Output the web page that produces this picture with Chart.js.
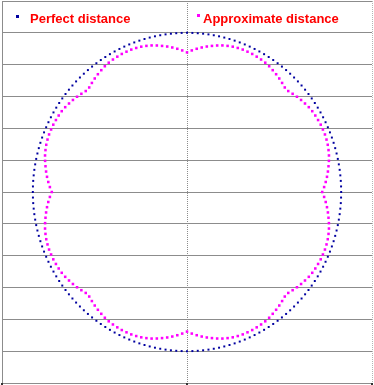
<!DOCTYPE html>
<html>
<head>
<meta charset="utf-8">
<script src="https://cdn.jsdelivr.net/npm/chart.js@4"></script>
<style>
    html, body { margin: 0; padding: 0; background: #fff; }
    .wrap { position: relative; width: 374px; height: 385px; }
    .legend-item { position: absolute; font: bold 13px "Liberation Sans", Arial, sans-serif; line-height: 15px; color: #ff0000; white-space: nowrap; }
    .legend-mark { position: absolute; width: 3px; height: 3px; }
</style>
</head>
<body>
<div class="wrap">
    <canvas id="distChart" width="374" height="385"></canvas>
    <div class="legend-mark" style="left:16px; top:15px; background:#0000a0;"></div>
    <div class="legend-item" style="left:30px; top:11px;">Perfect distance</div>
    <div class="legend-mark" style="left:197px; top:14px; background:#ff00ff;"></div>
    <div class="legend-item" style="left:203px; top:11px;">Approximate distance</div>
</div>
<script>
// Angle of each sample, degrees clockwise from straight up
const angles = [
    0, 2, 4, 6, 8, 10, 12, 14, 16, 18, 20, 22, 24, 26, 28, 30, 32, 34, 36, 38, 40, 42, 44,
    46, 48, 50, 52, 54, 56, 58, 60, 62, 64, 66, 68, 70, 72, 74, 76, 78, 80, 82, 84, 86, 88,
    90, 92, 94, 96, 98, 100, 102, 104, 106, 108, 110, 112, 114, 116, 118, 120, 122, 124, 126, 128, 130, 132, 134,
    136, 138, 140, 142, 144, 146, 148, 150, 152, 154, 156, 158, 160, 162, 164, 166, 168, 170, 172, 174, 176, 178,
    180, 182, 184, 186, 188, 190, 192, 194, 196, 198, 200, 202, 204, 206, 208, 210, 212, 214, 216, 218, 220, 222, 224,
    226, 228, 230, 232, 234, 236, 238, 240, 242, 244, 246, 248, 250, 252, 254, 256, 258, 260, 262, 264, 266, 268,
    270, 272, 274, 276, 278, 280, 282, 284, 286, 288, 290, 292, 294, 296, 298, 300, 302, 304, 306, 308, 310, 312, 314,
    316, 318, 320, 322, 324, 326, 328, 330, 332, 334, 336, 338, 340, 342, 344, 346, 348, 350, 352, 354, 356, 358
];

// Perfect distance: radius of each blue point
const perfectR = [
    1, 1, 1, 1, 1, 1, 1, 1, 1, 1, 1, 1, 1, 1, 1, 1, 1, 1, 1, 1, 1, 1, 1, 1, 1, 1, 1, 1, 1, 1, 1, 1, 1, 1, 1, 1, 1, 1, 1, 1, 1, 1, 1, 1, 1,
    1, 1, 1, 1, 1, 1, 1, 1, 1, 1, 1, 1, 1, 1, 1, 1, 1, 1, 1, 1, 1, 1, 1, 1, 1, 1, 1, 1, 1, 1, 1, 1, 1, 1, 1, 1, 1, 1, 1, 1, 1, 1, 1, 1, 1,
    1, 1, 1, 1, 1, 1, 1, 1, 1, 1, 1, 1, 1, 1, 1, 1, 1, 1, 1, 1, 1, 1, 1, 1, 1, 1, 1, 1, 1, 1, 1, 1, 1, 1, 1, 1, 1, 1, 1, 1, 1, 1, 1, 1, 1,
    1, 1, 1, 1, 1, 1, 1, 1, 1, 1, 1, 1, 1, 1, 1, 1, 1, 1, 1, 1, 1, 1, 1, 1, 1, 1, 1, 1, 1, 1, 1, 1, 1, 1, 1, 1, 1, 1, 1, 1, 1, 1, 1, 1, 1
];

// Approximate distance: radius of each magenta point
const approxR = [
    0.877, 0.890, 0.902, 0.913, 0.923, 0.932, 0.941, 0.949, 0.955, 0.960, 0.963, 0.965, 0.965, 0.965, 0.963, 0.961, 0.958, 0.953, 0.946, 0.939, 0.931, 0.922, 0.913,
    0.913, 0.922, 0.931, 0.939, 0.946, 0.953, 0.958, 0.961, 0.963, 0.965, 0.965, 0.965, 0.963, 0.960, 0.955, 0.949, 0.941, 0.932, 0.923, 0.913, 0.902, 0.890,
    0.877, 0.890, 0.902, 0.913, 0.923, 0.932, 0.941, 0.949, 0.955, 0.960, 0.963, 0.965, 0.965, 0.965, 0.963, 0.961, 0.958, 0.953, 0.946, 0.939, 0.931, 0.922, 0.913,
    0.913, 0.922, 0.931, 0.939, 0.946, 0.953, 0.958, 0.961, 0.963, 0.965, 0.965, 0.965, 0.963, 0.960, 0.955, 0.949, 0.941, 0.932, 0.923, 0.913, 0.902, 0.890,
    0.877, 0.890, 0.902, 0.913, 0.923, 0.932, 0.941, 0.949, 0.955, 0.960, 0.963, 0.965, 0.965, 0.965, 0.963, 0.961, 0.958, 0.953, 0.946, 0.939, 0.931, 0.922, 0.913,
    0.913, 0.922, 0.931, 0.939, 0.946, 0.953, 0.958, 0.961, 0.963, 0.965, 0.965, 0.965, 0.963, 0.960, 0.955, 0.949, 0.941, 0.932, 0.923, 0.913, 0.902, 0.890,
    0.877, 0.890, 0.902, 0.913, 0.923, 0.932, 0.941, 0.949, 0.955, 0.960, 0.963, 0.965, 0.965, 0.965, 0.963, 0.961, 0.958, 0.953, 0.946, 0.939, 0.931, 0.922, 0.913,
    0.913, 0.922, 0.931, 0.939, 0.946, 0.953, 0.958, 0.961, 0.963, 0.965, 0.965, 0.965, 0.963, 0.960, 0.955, 0.949, 0.941, 0.932, 0.923, 0.913, 0.902, 0.890
];

// polar (angle, radius) -> scatter point
function toPoints(radii) {
    return angles.map((a, i) => {
        const rad = a * Math.PI / 180;
        return { x: radii[i] * Math.sin(rad), y: radii[i] * Math.cos(rad) };
    });
}

const gridGray = '#8c8c8c';

// small dark tick marks under the x axis, at the scale's own ticks
const xTickMarks = {
    id: 'xTickMarks',
    afterDraw(chart) {
        const sc = chart.scales.x;
        const ctx = chart.ctx;
        const bottom = Math.round(chart.chartArea.bottom);
        ctx.save();
        ctx.fillStyle = '#333';
        sc.ticks.forEach(t => {
            const px = Math.round(sc.getPixelForValue(t.value));
            ctx.fillRect(px - 1, bottom, 2, 2);
        });
        ctx.restore();
    }
};

new Chart(document.getElementById('distChart'), {
    type: 'scatter',
    data: {
        datasets: [
            {
                label: 'Perfect distance',
                data: toPoints(perfectR),
                pointStyle: 'rect',
                pointRadius: 1.4,
                pointHoverRadius: 1.4,
                borderWidth: 0,
                backgroundColor: '#0000a0'
            },
            {
                label: 'Approximate distance',
                data: toPoints(approxR),
                pointStyle: 'rect',
                pointRadius: 1.8,
                pointHoverRadius: 1.8,
                borderWidth: 0,
                backgroundColor: '#ff00ff'
            }
        ]
    },
    plugins: [xTickMarks],
    options: {
        responsive: false,
        animation: false,
        events: [],
        layout: { autoPadding: false, padding: { left: 2, right: 2, top: 1, bottom: 2 } },
        plugins: {
            legend: { display: false },
            tooltip: { enabled: false }
        },
        scales: {
            x: {
                type: 'linear',
                min: -1.2,
                max: 1.2,
                ticks: { display: false, stepSize: 1.2 },
                grid: {
                    color: ctx => {
                        const v = ctx.tick ? ctx.tick.value : null;
                        if (v !== null && Math.abs(v) < 1e-9) return gridGray;
                        return '#b4b4b4';
                    },
                    drawTicks: false
                },
                border: { display: true, color: gridGray, dash: [1, 1] }
            },
            y: {
                type: 'linear',
                min: -1.2,
                max: 1.2,
                ticks: { display: false, stepSize: 0.2 },
                grid: { color: gridGray, drawTicks: false },
                border: { display: true, color: gridGray }
            }
        }
    }
});
</script>
</body>
</html>
